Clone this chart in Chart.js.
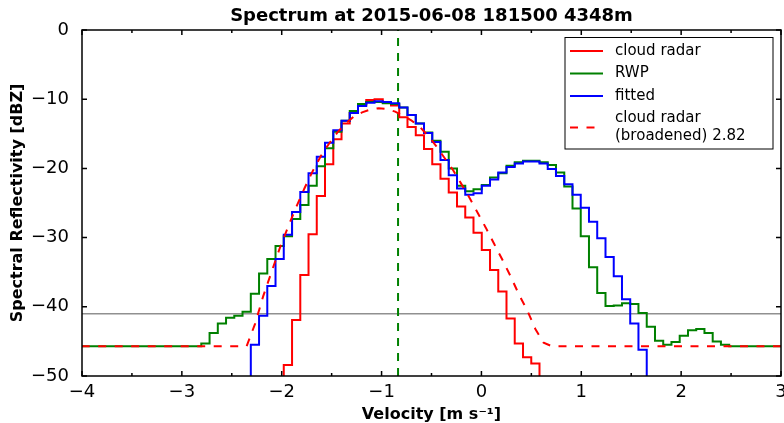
<!DOCTYPE html>
<html>
<head>
<meta charset="utf-8">
<script src="https://cdn.jsdelivr.net/npm/chart.js@4.4.1/dist/chart.umd.min.js"></script>
<style>
  html, body { margin: 0; padding: 0; background: #fff; }
  #wrap { width: 784px; height: 423px; }
</style>
</head>
<body>
<div id="wrap"><canvas id="spectrumChart" width="784" height="423"></canvas></div>
<script>
// velocity bin centres [m s-1]
const velocity = [
    -4.003, -3.920, -3.838, -3.755, -3.673, -3.590, -3.507, -3.425, -3.342, -3.260,
    -3.177, -3.094, -3.012, -2.929, -2.847, -2.764, -2.681, -2.599, -2.516, -2.434,
    -2.351, -2.268, -2.186, -2.103, -2.021, -1.938, -1.855, -1.773, -1.690, -1.608,
    -1.525, -1.442, -1.360, -1.277, -1.195, -1.112, -1.029, -0.947, -0.864, -0.782,
    -0.699, -0.616, -0.534, -0.451, -0.369, -0.286, -0.203, -0.121, -0.038, 0.045,
    0.127, 0.210, 0.292, 0.375, 0.458, 0.540, 0.623, 0.705, 0.788, 0.871,
    0.953, 1.036, 1.118, 1.201, 1.284, 1.366, 1.449, 1.531, 1.614, 1.697,
    1.779, 1.862, 1.944, 2.027, 2.110, 2.192, 2.275, 2.357, 2.440, 2.523,
    2.605, 2.688, 2.770, 2.853, 2.936, 3.018
];

// spectral reflectivity [dBZ]
const cloudRadar = [
    null, null, null, null, null, null, null, null, null, null,
    null, null, null, null, null, null, null, null, null, null,
    null, null, null, null, -60, -48.4, -41.9, -35.4, -29.5, -24.0,
    -19.4, -15.8, -13.5, -12.0, -10.8, -10.1, -10.0, -10.5, -10.9, -12.6,
    -14.0, -15.2, -17.2, -19.4, -21.5, -23.5, -25.5, -27.1, -29.3, -31.8,
    -34.7, -37.8, -41.7, -45.3, -47.3, -48.2, -60, null, null, null,
    null, null, null, null, null, null, null, null, null, null,
    null, null, null, null, null, null, null, null, null, null,
    null, null, null, null, null, null
];

const rwp = [
    -45.7, -45.7, -45.7, -45.7, -45.7, -45.7, -45.7, -45.7, -45.7, -45.7,
    -45.7, -45.7, -45.7, -45.7, -45.7, -45.3, -43.8, -42.4, -41.6, -41.3,
    -40.7, -38.1, -35.2, -33.1, -31.2, -29.8, -27.3, -25.3, -22.5, -19.7,
    -17.1, -14.7, -13.1, -11.7, -10.7, -10.4, -10.4, -10.6, -10.7, -11.2,
    -12.3, -13.5, -14.8, -16.0, -17.6, -20.0, -22.5, -23.3, -23.0, -22.4,
    -21.3, -20.7, -19.6, -19.1, -18.9, -18.9, -19.1, -19.5, -20.6, -22.6,
    -25.8, -29.8, -34.3, -38.0, -39.9, -39.8, -39.5, -39.6, -40.9, -42.9,
    -44.9, -45.5, -45.1, -44.2, -43.4, -43.2, -43.8, -45.0, -45.5, -45.7,
    -45.7, -45.7, -45.7, -45.7, -45.7, -45.7
];

const fitted = [
    null, null, null, null, null, null, null, null, null, null,
    null, null, null, null, null, null, null, null, null, null,
    -60, -45.5, -41.3, -37.0, -33.1, -29.6, -26.3, -23.4, -20.7, -18.3,
    -16.3, -14.5, -13.1, -12.0, -11.0, -10.5, -10.3, -10.4, -10.6, -11.2,
    -12.3, -13.5, -14.9, -16.2, -18.8, -21.0, -22.9, -23.8, -23.6, -22.5,
    -21.6, -20.6, -19.8, -19.3, -19.0, -19.0, -19.3, -20.1, -21.1, -22.3,
    -23.8, -25.7, -27.7, -30.1, -32.8, -35.6, -38.9, -42.4, -46.2, -60,
    null, null, null, null, null, null, null, null, null, null,
    null, null, null, null, null, null
];

const broadened = [
    -45.7, -45.7, -45.7, -45.7, -45.7, -45.7, -45.7, -45.7, -45.7, -45.7,
    -45.7, -45.7, -45.7, -45.7, -45.7, -45.7, -45.7, -45.7, -45.7, -45.7,
    -45.7, -42.5, -38.5, -35.0, -31.6, -28.5, -25.6, -22.9, -20.4, -18.2,
    -16.4, -14.8, -13.5, -12.5, -11.9, -11.5, -11.3, -11.4, -11.8, -12.4,
    -13.1, -14.0, -15.3, -16.8, -18.5, -20.2, -22.2, -24.2, -26.4, -28.6,
    -30.9, -33.2, -35.6, -38.2, -40.5, -43.2, -45.2, -45.7, -45.7, -45.7,
    -45.7, -45.7, -45.7, -45.7, -45.7, -45.7, -45.7, -45.7, -45.7, -45.7,
    -45.7, -45.7, -45.7, -45.7, -45.7, -45.7, -45.7, -45.7, -45.7, -45.7,
    -45.7, -45.7, -45.7, -45.7, -45.7, -45.7
];

const meanVelocity = -0.835;   // green dashed vertical
const noiseLevel = -41.0;      // grey horizontal
const xRange = [-4, 3];
const yRange = [-50, 0];
const xTicks = [-4, -3, -2, -1, 0, 1, 2, 3];
const xMinorTicks = [-3.5, -2.5, -1.5, -0.5, 0.5, 1.5, 2.5];
const yTicks = [0, -10, -20, -30, -40, -50];

const FONT = "'DejaVu Sans', sans-serif";
Chart.defaults.font.family = FONT;
Chart.defaults.color = "#000";

function toPoints(values) {
    return velocity.map((v, i) => ({ x: v, y: values[i] }));
}

function minusSign(v) {
    return String(v).replace("-", "\u2212");
}

// ticks pointing inwards on all four sides + frame
const frameTicks = {
    id: "frameTicks",
    afterDatasetsDraw(chart) {
        const { ctx, chartArea: a, scales } = chart;
        const x = scales.x;
        const y = scales.y;
        ctx.save();
        ctx.strokeStyle = "#000";
        ctx.lineWidth = 1.5;
        ctx.beginPath();
        xTicks.forEach((v) => {
            const px = x.getPixelForValue(v);
            ctx.moveTo(px, a.bottom); ctx.lineTo(px, a.bottom - 5);
            ctx.moveTo(px, a.top); ctx.lineTo(px, a.top + 5);
        });
        xMinorTicks.forEach((v) => {
            const px = x.getPixelForValue(v);
            ctx.moveTo(px, a.bottom); ctx.lineTo(px, a.bottom - 3);
            ctx.moveTo(px, a.top); ctx.lineTo(px, a.top + 3);
        });
        yTicks.forEach((v) => {
            const py = y.getPixelForValue(v);
            ctx.moveTo(a.left, py); ctx.lineTo(a.left + 5, py);
            ctx.moveTo(a.right, py); ctx.lineTo(a.right - 5, py);
        });
        ctx.stroke();
        ctx.strokeRect(a.left, a.top, a.right - a.left, a.bottom - a.top);
        ctx.restore();
    },
};

// boxed legend in the upper right corner of the axes
const boxLegend = {
    id: "boxLegend",
    afterDraw(chart) {
        const { ctx, chartArea: a } = chart;
        const items = chart.data.datasets.filter((d) => d.label);
        const w = 208, h = 111.5;
        const x0 = a.right - 8 - w;
        const y0 = a.top + 7.5;
        ctx.save();
        ctx.fillStyle = "#fff";
        ctx.fillRect(x0, y0, w, h);
        ctx.strokeStyle = "#000";
        ctx.lineWidth = 1;
        ctx.strokeRect(x0, y0, w, h);
        ctx.font = "15px " + FONT;
        ctx.textBaseline = "middle";
        let yy = y0 + 13.5;
        items.forEach((d) => {
            const lines = d.label.split("\n");
            const mid = yy + (lines.length - 1) * 9;
            ctx.strokeStyle = d.borderColor;
            ctx.lineWidth = d.borderWidth;
            ctx.setLineDash(d.borderDash || []);
            ctx.beginPath();
            ctx.moveTo(x0 + 5, mid);
            ctx.lineTo(x0 + 38, mid);
            ctx.stroke();
            ctx.setLineDash([]);
            ctx.fillStyle = "#000";
            lines.forEach((t, i) => ctx.fillText(t, x0 + 50, yy + i * 18));
            yy += lines.length * 18 + 4.5;
        });
        ctx.restore();
    },
};

const ctx = document.getElementById("spectrumChart").getContext("2d");
const spectrumChart = new Chart(ctx, {
    type: "line",
    data: {
        datasets: [
            {
                label: "cloud radar",
                data: toPoints(cloudRadar),
                borderColor: "#ff0000",
                borderWidth: 2,
                stepped: "middle",
                order: 4,
            },
            {
                label: "RWP",
                data: toPoints(rwp),
                borderColor: "#008000",
                borderWidth: 2,
                stepped: "middle",
                order: 3,
            },
            {
                label: "fitted",
                data: toPoints(fitted),
                borderColor: "#0000ff",
                borderWidth: 2,
                stepped: "middle",
                order: 2,
            },
            {
                label: "cloud radar\n(broadened) 2.82",
                data: toPoints(broadened),
                borderColor: "#ff0000",
                borderWidth: 2,
                borderDash: [8, 8.5],
                order: 1,
            },
            {
                data: [{ x: meanVelocity, y: yRange[0] }, { x: meanVelocity, y: yRange[1] }],
                borderColor: "#008000",
                borderWidth: 2,
                borderDash: [8, 7],
                order: 5,
            },
            {
                data: [{ x: xRange[0], y: noiseLevel }, { x: xRange[1], y: noiseLevel }],
                borderColor: "#909090",
                borderWidth: 1.5,
                order: 6,
            },
        ],
    },
    options: {
        responsive: false,
        animation: false,
        devicePixelRatio: 1,
        layout: { padding: { left: 0, right: 3, top: 0, bottom: 0 } },
        elements: { point: { radius: 0 }, line: { tension: 0 } },
        plugins: {
            legend: { display: false },
            tooltip: { enabled: false },
            title: {
                display: true,
                fullSize: false,
                text: "Spectrum at 2015-06-08 181500 4348m",
                font: { size: 18, weight: "bold" },
                color: "#000",
                padding: { top: 6, bottom: 2.4 },
            },
        },
        scales: {
            x: {
                type: "linear",
                min: xRange[0],
                max: xRange[1],
                afterBuildTicks: (s) => { s.ticks = xTicks.map((v) => ({ value: v })); },
                afterFit: (s) => { s.height = 47; s.paddingLeft = 0; s.paddingRight = 0; },
                grid: { display: false },
                border: { display: false },
                ticks: {
                    font: { size: 18 },
                    color: "#000",
                    padding: -2,
                    maxRotation: 0,
                    autoSkip: false,
                    callback: (v) => minusSign(v),
                },
                title: {
                    display: true,
                    text: "Velocity [m s\u207B\u00B9]",
                    font: { size: 16, weight: "bold", lineHeight: 1 },
                    color: "#000",
                    padding: { top: 0, bottom: 0 },
                },
            },
            y: {
                type: "linear",
                min: yRange[0],
                max: yRange[1],
                afterBuildTicks: (s) => { s.ticks = yTicks.map((v) => ({ value: v })); },
                afterFit: (s) => { s.width = 82; s.paddingTop = 0; s.paddingBottom = 0; },
                grid: { display: false },
                border: { display: false },
                ticks: {
                    font: { size: 18 },
                    color: "#000",
                    padding: 5,
                    callback: (v) => minusSign(v),
                },
                title: {
                    display: true,
                    text: "Spectral Reflectivity [dBZ]",
                    font: { size: 16, weight: "bold", lineHeight: 1 },
                    color: "#000",
                    padding: { top: 10, bottom: 0 },
                },
            },
        },
    },
    plugins: [frameTicks, boxLegend],
});
</script>
</body>
</html>
